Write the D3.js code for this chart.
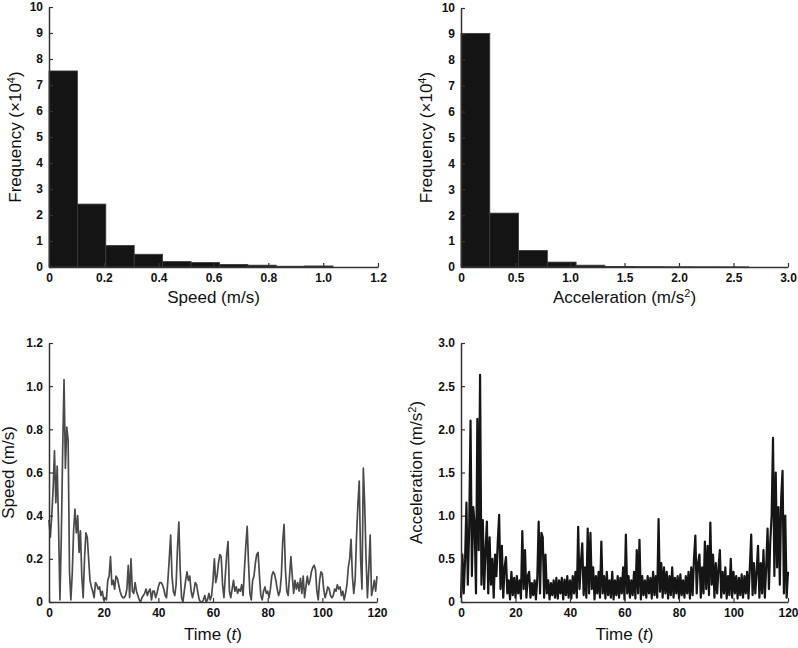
<!DOCTYPE html>
<html><head><meta charset="utf-8">
<script src="https://cdn.jsdelivr.net/npm/d3@7"></script>
<style>
body{margin:0;background:#fff;}
svg{display:block;font-family:Arial,"Liberation Sans",sans-serif;}
.tick text{font-weight:bold;font-size:12px;fill:#111;font-family:Arial,"Liberation Sans",sans-serif;}
.lbl{font-size:17px;fill:#111;}
</style></head><body>
<svg id="c" width="798" height="648"></svg>
<script>
// ---------- DATA ----------
const speedHistCounts = [7.54, 2.42, 0.83, 0.49, 0.21, 0.17, 0.10, 0.07, 0.03, 0.04];
const speedHistMax = 1.036;
const accHistCounts = [9.02, 2.08, 0.64, 0.19, 0.07, 0.02, 0.015, 0.01, 0.008, 0.006];
const accHistMax = 2.64;
const freqTicks = [0,1,2,3,4,5,6,7,8,9,10];
const speedTicks = [0,0.2,0.4,0.6,0.8,1.0,1.2];
const accTicks = [0,0.5,1.0,1.5,2.0,2.5,3.0];
const timeTicks = [0,20,40,60,80,100,120];
const timeStep = 0.5;
const speedSeries = [
0.38,0.30,0.40,0.52,0.70,0.46,0.63,0.35,0.01,0.30,
0.70,1.03,0.62,0.81,0.75,0.14,0.01,0.13,0.33,0.43,
0.32,0.40,0.23,0.33,0.12,0.02,0.20,0.32,0.30,0.20,
0.10,0.07,0.05,0.02,0.09,0.08,0.06,0.07,0.03,0.05,
0.01,0.02,0.01,0.10,0.12,0.21,0.08,0.10,0.06,0.12,
0.11,0.08,0.05,0.03,0.02,0.02,0.03,0.06,0.17,0.02,
0.20,0.05,0.04,0.09,0.05,0.03,0.01,0.00,0.02,0.03,
0.04,0.06,0.03,0.05,0.06,0.01,0.05,0.05,0.02,0.04,
0.07,0.09,0.09,0.08,0.06,0.03,0.02,0.10,0.20,0.31,
0.12,0.05,0.03,0.08,0.25,0.37,0.15,0.02,0.00,0.05,
0.10,0.14,0.10,0.12,0.05,0.02,0.05,0.09,0.08,0.04,
0.01,0.00,0.00,0.01,0.03,0.00,0.01,0.04,0.01,0.03,
0.10,0.20,0.09,0.12,0.18,0.22,0.21,0.08,0.02,0.12,
0.22,0.28,0.05,0.02,0.06,0.10,0.05,0.07,0.04,0.06,
0.05,0.08,0.03,0.15,0.26,0.35,0.18,0.04,0.01,0.10,
0.12,0.18,0.22,0.23,0.12,0.03,0.01,0.05,0.07,0.04,
0.05,0.02,0.06,0.12,0.14,0.13,0.10,0.06,0.03,0.05,
0.12,0.28,0.36,0.15,0.05,0.03,0.12,0.21,0.12,0.04,
0.10,0.06,0.09,0.05,0.11,0.04,0.12,0.02,0.07,0.12,
0.08,0.10,0.14,0.16,0.17,0.15,0.05,0.01,0.10,0.14,
0.13,0.06,0.02,0.04,0.07,0.06,0.03,0.02,0.03,0.06,
0.05,0.08,0.06,0.07,0.03,0.05,0.01,0.04,0.08,0.16,
0.20,0.29,0.12,0.04,0.10,0.30,0.45,0.56,0.20,0.06,
0.62,0.45,0.20,0.02,0.15,0.31,0.03,0.06,0.10,0.05,
0.12];
const accSeries = [
0.05,0.55,0.10,0.50,1.15,0.20,0.85,2.10,0.30,1.10,
0.90,0.10,2.12,0.60,2.63,0.20,0.95,0.15,0.60,0.93,
0.10,0.75,0.20,0.50,0.05,0.55,0.30,0.70,1.01,0.15,
0.65,0.05,0.40,0.52,0.10,0.25,0.03,0.35,0.08,0.28,
0.05,0.30,0.10,0.25,0.04,0.82,0.15,0.60,0.05,0.30,
0.35,0.05,0.22,0.08,0.25,0.03,0.28,0.93,0.10,0.80,
0.75,0.05,0.55,0.10,0.25,0.03,0.22,0.08,0.25,0.05,
0.28,0.04,0.25,0.10,0.28,0.03,0.26,0.08,0.30,0.05,
0.25,0.04,0.30,0.10,0.35,0.05,0.87,0.15,0.45,0.68,
0.08,0.40,0.05,0.85,0.10,0.80,0.15,0.40,0.03,0.30,
0.10,0.35,0.05,0.70,0.10,0.30,0.04,0.35,0.08,0.25,
0.05,0.35,0.03,0.25,0.08,0.30,0.05,0.28,0.10,0.40,
0.03,0.78,0.10,0.30,0.05,0.25,0.08,0.35,0.04,0.60,
0.10,0.72,0.03,0.30,0.08,0.25,0.05,0.30,0.10,0.28,
0.04,0.35,0.08,0.30,0.05,0.96,0.12,0.45,0.05,0.40,
0.10,0.35,0.04,0.30,0.08,0.40,0.05,0.28,0.10,0.30,
0.04,0.32,0.08,0.25,0.05,0.30,0.10,0.35,0.04,0.40,
0.08,0.50,0.77,0.10,0.45,0.55,0.05,0.40,0.10,0.70,
0.15,0.65,0.08,0.92,0.20,0.55,0.05,0.45,0.10,0.40,
0.60,0.05,0.35,0.10,0.40,0.04,0.30,0.08,0.50,0.05,
0.35,0.10,0.30,0.04,0.28,0.08,0.32,0.05,0.30,0.10,
0.35,0.04,0.40,0.78,0.08,0.45,0.10,0.35,0.65,0.05,
0.45,0.10,0.60,0.05,0.40,0.85,0.15,0.70,1.00,1.90,
0.30,1.50,0.40,1.10,0.20,1.20,1.52,0.10,1.00,0.05,
0.35];

// ---------- DRAW ----------
const svg = d3.select("#c");
const axisColor = "#333";

function styleAxis(g){
  g.attr("font-size",null).attr("font-family",null);
  g.select(".domain").attr("stroke",axisColor).attr("stroke-width",1.5);
  g.selectAll(".tick line").attr("stroke",axisColor).attr("stroke-width",1.2);
}

function panel(o){
  const x = d3.scaleLinear().domain(o.xDomain).range([o.x0,o.x1]);
  const y = d3.scaleLinear().domain(o.yDomain).range([o.y0,o.y1]);
  const g = svg.append("g");
  o.draw(g,x,y);
  const xa = g.append("g").attr("transform",`translate(0,${o.y0})`)
    .call(d3.axisBottom(x).tickValues(o.xTicks).tickSizeInner(-4).tickSizeOuter(0).tickPadding(6).tickFormat(o.xFmt));
  styleAxis(xa);
  const ya = g.append("g").attr("transform",`translate(${o.x0},0)`)
    .call(d3.axisLeft(y).tickValues(o.yTicks).tickSizeInner(-4).tickSizeOuter(0).tickPadding(6).tickFormat(o.yFmt));
  styleAxis(ya);
  const xl = g.append("text").attr("class","lbl").attr("text-anchor","middle")
    .attr("x",(o.x0+o.x1)/2).attr("y",o.y0+o.xlOff);
  o.xLabel(xl);
  const yl = g.append("text").attr("class","lbl").attr("text-anchor","middle")
    .attr("transform",`translate(${o.ylx},${(o.y0+o.y1)/2}) rotate(-90)`);
  o.yLabel(yl);
}

const fmt1 = d => d===0 ? "0" : d3.format(".1f")(d);
const fmt0 = d => String(d);

function freqLabel(t){
  t.append("tspan").text("Frequency (×10");
  t.append("tspan").text("4").attr("font-size","11px").attr("dy","-6");
  t.append("tspan").text(")").attr("dy","6");
}
function accLabel(t){
  t.append("tspan").text("Acceleration (m/s");
  t.append("tspan").text("2").attr("font-size","11px").attr("dy","-6");
  t.append("tspan").text(")").attr("dy","6");
}
function timeLabel(t){
  t.append("tspan").text("Time (");
  t.append("tspan").text("t").attr("font-style","italic");
  t.append("tspan").text(")");
}

function hist(counts,maxV){
  return (g,x,y)=>{
    const w = maxV/counts.length;
    g.selectAll("rect.bar").data(counts).join("rect").attr("class","bar")
      .attr("x",(d,i)=>x(i*w)).attr("width",(d,i)=>x((i+1)*w)-x(i*w))
      .attr("y",d=>y(d)).attr("height",d=>y(0)-y(d))
      .attr("fill","#141414").attr("stroke","#3a3a3a").attr("stroke-width",0.8);
  };
}

function series(vals,color,width){
  return (g,x,y)=>{
    const line = d3.line().x((d,i)=>x(i*timeStep)).y(d=>y(d));
    g.append("path").datum(vals).attr("d",line).attr("fill","none")
      .attr("stroke",color).attr("stroke-width",width).attr("stroke-linejoin","round");
  };
}

panel({x0:49,x1:378,y0:267,y1:7,xDomain:[0,1.2],yDomain:[0,10],
  xTicks:speedTicks,yTicks:freqTicks,xFmt:fmt1,yFmt:fmt0,xlOff:36,ylx:21,
  draw:hist(speedHistCounts,speedHistMax),
  xLabel:t=>t.text("Speed (m/s)"),yLabel:freqLabel});

panel({x0:461,x1:788,y0:267,y1:8,xDomain:[0,3.0],yDomain:[0,10],
  xTicks:accTicks,yTicks:freqTicks,xFmt:fmt1,yFmt:fmt0,xlOff:36,ylx:432,
  draw:hist(accHistCounts,accHistMax),
  xLabel:accLabel,yLabel:freqLabel});

panel({x0:49,x1:377,y0:602,y1:343,xDomain:[0,120],yDomain:[0,1.2],
  xTicks:timeTicks,yTicks:speedTicks,xFmt:fmt0,yFmt:fmt1,xlOff:38,ylx:14,
  draw:series(speedSeries,"#4a4a4a",1.7),
  xLabel:timeLabel,
  yLabel:t=>t.text("Speed (m/s)")});

panel({x0:461,x1:788,y0:602,y1:343,xDomain:[0,120],yDomain:[0,3.0],
  xTicks:timeTicks,yTicks:accTicks,xFmt:fmt0,yFmt:fmt1,xlOff:38,ylx:422,
  draw:series(accSeries,"#151515",2.2),
  xLabel:timeLabel,
  yLabel:accLabel});
</script>
</body></html>
